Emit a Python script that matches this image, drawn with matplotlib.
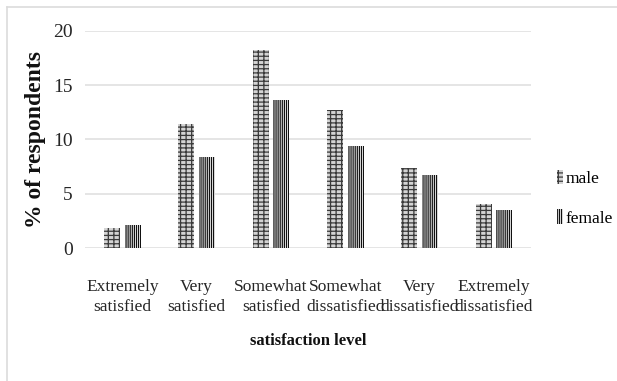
"""Satisfaction level by gender, grouped bar chart."""

import matplotlib
matplotlib.use("Agg")
import matplotlib.pyplot as plt
import numpy as np
from matplotlib.lines import Line2D

categories = [
    "Extremely\nsatisfied",
    "Very\nsatisfied",
    "Somewhat\nsatisfied",
    "Somewhat\ndissatisfied",
    "Very\ndissatisfied",
    "Extremely\ndissatisfied",
]
male = [1.8, 11.4, 18.2, 12.7, 7.4, 4.1]
female = [2.1, 8.4, 13.6, 9.4, 6.7, 3.5]
yticks = [0, 5, 10, 15, 20]

plt.rcParams["font.family"] = ["Liberation Serif", "DejaVu Serif"]
plt.rcParams["hatch.linewidth"] = 0.9

fig = plt.figure(figsize=(6.17, 3.81), dpi=100)
ax = fig.add_axes([0.138, 0.349, 0.723, 0.570])

x = np.arange(len(categories))
w = 0.215
off = 0.14
ax.bar(x - off, male, w, facecolor="#d4d4d4", edgecolor="#3a3a3a",
       hatch="----|||", linewidth=0, label="male", zorder=3)
ax.bar(x + off, female, w, facecolor="white", edgecolor="#111111",
       hatch="||||||||", linewidth=0, label="female", zorder=3)

ax.set_xlim(-0.5, len(categories) - 0.5)
ax.set_ylim(0, 20)
ax.set_yticks(yticks)
ax.set_xticks(x)
ax.set_xticklabels(categories, fontsize=12.5, color="#262626", linespacing=1.4)
ax.tick_params(axis="y", labelsize=14, labelcolor="#262626", length=0, pad=9)
ax.tick_params(axis="x", length=0, pad=22)
ax.grid(axis="y", color="#e0e0e0", linewidth=1.2, zorder=0)
for sp in ax.spines.values():
    sp.set_visible(False)

ax.set_ylabel("% of respondents", fontsize=17, fontweight="bold",
              color="#111111", labelpad=5)
ax.set_xlabel("satisfaction level", fontsize=12, fontweight="bold",
              color="#111111", labelpad=13)

fig.legend(loc="center left", bbox_to_anchor=(0.888, 0.48), frameon=False,
           fontsize=12.5, handlelength=0.35, handleheight=0.9,
           handletextpad=0.15, labelspacing=1.3, borderpad=0)

# light frame along top and left edge
fig.add_artist(Line2D([7 / 617, 1], [1 - 7 / 381, 1 - 7 / 381],
                      transform=fig.transFigure, color="#dcdcdc", lw=1.2))
fig.add_artist(Line2D([7 / 617, 7 / 617], [0, 1 - 7 / 381],
                      transform=fig.transFigure, color="#dcdcdc", lw=1.2))

fig.savefig("out.png", dpi=100)
plt.close(fig)
